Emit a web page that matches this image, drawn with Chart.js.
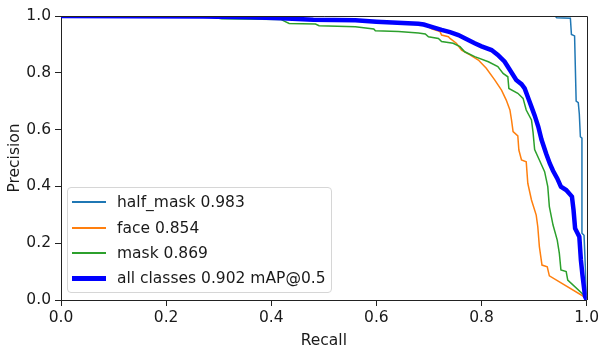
<!DOCTYPE html>
<html lang="en">
<head>
  <meta charset="UTF-8" />
  <title>Precision-Recall Curve</title>
  <script src="https://cdn.jsdelivr.net/npm/chart.js"></script>
  <style>
    body {
      margin: 0;
      padding: 0;
      background: #fff;
      font-family: 'DejaVu Sans', sans-serif;
    }
    .wrap {
      position: relative;
      width: 602px;
      height: 350px;
    }
    #legend {
      position: absolute;
      left: 67px;
      top: 187px;
      width: 265px;
      height: 106px;
      border: 1px solid #d6d6d6;
      border-radius: 4px;
      background: rgba(255,255,255,0.85);
      box-sizing: border-box;
    }
    .row {
      position: absolute;
      left: 0;
      height: 20px;
      font-size: 15.5px;
      color: #1a1a1a;
      white-space: nowrap;
    }
    .row .swatch {
      position: absolute;
      left: 4px;
      width: 34px;
    }
    .row span {
      position: absolute;
      left: 49px;
      top: 0;
      line-height: 20px;
    }
  </style>
</head>
<body>
  <div class="wrap">
    <canvas id="prChart" width="602" height="350"></canvas>
    <div id="legend"></div>
  </div>

  <script>
    // class names + mAP@0.5 from the legend
    const classNames = ['half_mask', 'face', 'mask'];
    const classAP = [0.983, 0.854, 0.869];
    const allAP = 0.902;

    const tickValues = [0.0, 0.2, 0.4, 0.6, 0.8, 1.0];

    // curves (recall, precision)
    const halfMaskRecall = [0, 0.940, 0.943, 0.969, 0.971, 0.977, 0.980, 0.984, 0.986, 0.988, 0.991, 0.991, 0.995, 1.0];
    const halfMaskPrec   = [1.0, 1.0, 0.994, 0.992, 0.935, 0.930, 0.700, 0.695, 0.655, 0.575, 0.570, 0.235, 0.228, 0.0];

    const faceRecall = [0, 0.35, 0.45, 0.55, 0.65, 0.69, 0.699, 0.705, 0.721, 0.724, 0.737, 0.74, 0.752, 0.762, 0.778, 0.794, 0.809, 0.825, 0.838, 0.847, 0.854, 0.857, 0.860, 0.869, 0.871, 0.876, 0.885, 0.888, 0.895, 0.904, 0.907, 0.910, 0.915, 0.925, 0.929, 1.0];
    const facePrec   = [1.0, 0.998, 0.99, 0.985, 0.977, 0.972, 0.962, 0.955, 0.945, 0.933, 0.927, 0.921, 0.904, 0.880, 0.863, 0.845, 0.816, 0.775, 0.739, 0.704, 0.669, 0.634, 0.593, 0.578, 0.528, 0.493, 0.487, 0.411, 0.352, 0.299, 0.258, 0.188, 0.123, 0.117, 0.085, 0.006];

    const maskRecall = [0, 0.27, 0.306, 0.418, 0.434, 0.484, 0.491, 0.560, 0.595, 0.598, 0.642, 0.680, 0.693, 0.699, 0.718, 0.724, 0.746, 0.759, 0.768, 0.787, 0.813, 0.831, 0.841, 0.850, 0.852, 0.869, 0.879, 0.885, 0.895, 0.898, 0.901, 0.910, 0.920, 0.926, 0.929, 0.936, 0.944, 0.948, 0.951, 0.961, 0.964, 1.0];
    const maskPrec   = [1.0, 1.0, 0.990, 0.988, 0.974, 0.972, 0.966, 0.962, 0.954, 0.948, 0.945, 0.940, 0.937, 0.927, 0.921, 0.910, 0.904, 0.892, 0.874, 0.857, 0.839, 0.822, 0.798, 0.786, 0.745, 0.728, 0.710, 0.669, 0.634, 0.590, 0.530, 0.493, 0.452, 0.399, 0.329, 0.264, 0.211, 0.164, 0.106, 0.100, 0.070, 0.008];

    const allRecall = [0, 0.27, 0.36, 0.42, 0.48, 0.56, 0.60, 0.64, 0.68, 0.69, 0.705, 0.724, 0.74, 0.756, 0.77, 0.787, 0.80, 0.819, 0.831, 0.844, 0.854, 0.866, 0.876, 0.882, 0.89, 0.895, 0.901, 0.908, 0.914, 0.923, 0.93, 0.936, 0.944, 0.951, 0.961, 0.972, 0.975, 0.978, 0.986, 0.989, 0.992, 0.997, 1.0];
    const allPrec   = [1.0, 0.998, 0.996, 0.992, 0.987, 0.985, 0.980, 0.976, 0.973, 0.970, 0.962, 0.951, 0.943, 0.933, 0.92, 0.904, 0.893, 0.880, 0.863, 0.839, 0.810, 0.775, 0.760, 0.745, 0.705, 0.680, 0.650, 0.610, 0.565, 0.515, 0.480, 0.455, 0.428, 0.399, 0.387, 0.364, 0.317, 0.252, 0.223, 0.141, 0.088, 0.012, 0.0];

    const colors = ['#1f77b4', '#ff7f0e', '#2ca02c'];
    const toPts = (xs, ys) => xs.map((x, i) => ({ x: x, y: ys[i] }));

    const classCurves = [
      toPts(halfMaskRecall, halfMaskPrec),
      toPts(faceRecall, facePrec),
      toPts(maskRecall, maskPrec)
    ];

    const datasets = classNames.map((name, i) => ({
      label: `${name} ${classAP[i].toFixed(3)}`,
      data: classCurves[i],
      borderColor: colors[i],
      borderWidth: 1.5,
      order: 3 - i
    }));
    datasets.push({
      label: `all classes ${allAP.toFixed(3)} mAP@0.5`,
      data: toPts(allRecall, allPrec),
      borderColor: '#0000ff',
      borderWidth: 4.5,
      order: 0
    });
    datasets.forEach(d => {
      d.pointRadius = 0;
      d.tension = 0;
      d.fill = false;
      d.clip = 0;
    });

    // top + right spines like matplotlib
    const frame = {
      id: 'frame',
      afterDatasetsDraw(chart) {
        const { ctx, chartArea: a } = chart;
        ctx.save();
        ctx.strokeStyle = '#222';
        ctx.lineWidth = 1;
        ctx.beginPath();
        ctx.moveTo(a.left, Math.round(a.top) + 0.5);
        ctx.lineTo(Math.round(a.right) + 0.5, Math.round(a.top) + 0.5);
        ctx.lineTo(Math.round(a.right) + 0.5, a.bottom);
        ctx.stroke();
        ctx.restore();
      }
    };

    const tickFont = { family: "'DejaVu Sans', sans-serif", size: 15.5 };

    const chart = new Chart(document.getElementById('prChart'), {
      type: 'line',
      data: { datasets: datasets },
      options: {
        responsive: false,
        animation: false,
        layout: { padding: { top: 16, right: 13, left: 0, bottom: 0 } },
        plugins: {
          legend: { display: false },
          tooltip: { enabled: false }
        },
        scales: {
          x: {
            type: 'linear',
            min: 0,
            max: 1,
            afterFit: (s) => { s.height = 50; },
            afterBuildTicks: (s) => { s.ticks = tickValues.map(v => ({ value: v })); },
            ticks: { font: tickFont, color: '#1a1a1a', padding: 3, maxRotation: 0, callback: v => v.toFixed(1) },
            grid: { drawOnChartArea: false, tickLength: 6, color: '#222' },
            border: { color: '#222', width: 1 },
            title: { display: true, text: 'Recall', font: tickFont, color: '#1a1a1a', padding: { top: 0, bottom: 0 } }
          },
          y: {
            type: 'linear',
            min: 0,
            max: 1,
            afterFit: (s) => { s.width = 61; },
            afterBuildTicks: (s) => { s.ticks = tickValues.map(v => ({ value: v })); },
            ticks: { font: tickFont, color: '#1a1a1a', padding: 4, callback: v => v.toFixed(1) },
            grid: { drawOnChartArea: false, tickLength: 6, color: '#222' },
            border: { color: '#222', width: 1 },
            title: { display: true, text: 'Precision', font: tickFont, color: '#1a1a1a', padding: { top: 6, bottom: 0 } }
          }
        }
      },
      plugins: [frame]
    });

    // legend box inside the axes, built from the datasets
    const legend = document.getElementById('legend');
    const rowTops = [4, 30, 55, 80];
    datasets.forEach((d, i) => {
      const thick = d.borderWidth > 2;
      const row = document.createElement('div');
      row.className = 'row';
      row.style.top = rowTops[i] + 'px';
      const sw = document.createElement('div');
      sw.className = 'swatch';
      sw.style.height = (thick ? 5 : 2) + 'px';
      sw.style.background = d.borderColor;
      sw.style.top = (thick ? 8 : 9) + 'px';
      const txt = document.createElement('span');
      txt.textContent = d.label;
      row.appendChild(sw);
      row.appendChild(txt);
      legend.appendChild(row);
    });
  </script>
</body>
</html>
